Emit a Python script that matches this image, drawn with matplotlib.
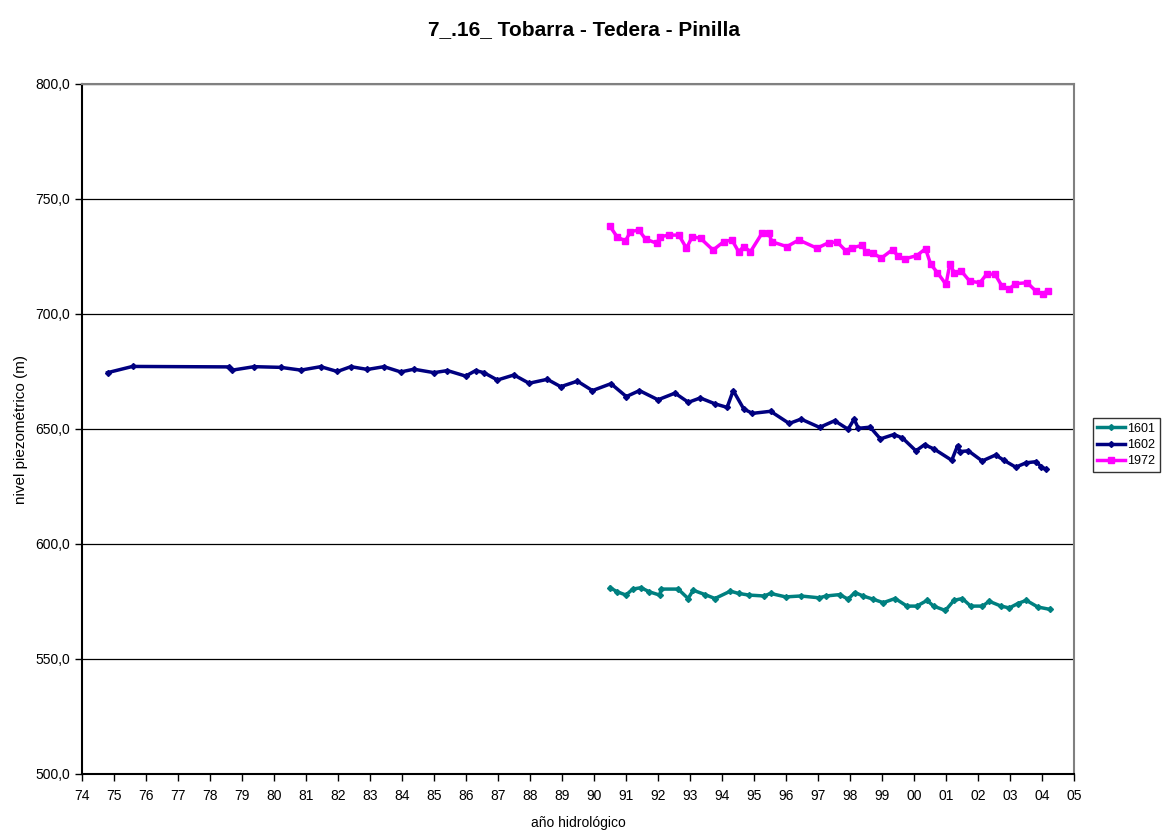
import numpy as np
import matplotlib.pyplot as plt
from matplotlib.ticker import FuncFormatter, MultipleLocator

plt.rcParams['font.family'] = ['Liberation Sans', 'DejaVu Sans']

# Series (hydrological year, level in m)
x_1601 = [90.50, 90.73, 91.00, 91.21, 91.47, 91.73, 92.05, 92.10, 92.63, 92.94,
          93.10, 93.47, 93.78, 94.26, 94.52, 94.84, 95.31, 95.52, 95.99, 96.46,
          97.04, 97.25, 97.68, 97.94, 98.15, 98.41, 98.72, 99.04, 99.41, 99.78,
          100.09, 100.41, 100.61, 100.98, 101.25, 101.51, 101.77, 102.14, 102.35,
          102.72, 102.98, 103.24, 103.51, 103.87, 104.24]
y_1601 = [581.0, 579.2, 577.8, 580.4, 581.0, 579.2, 577.8, 580.4, 580.4, 576.3,
          579.9, 578.0, 576.3, 579.5, 578.5, 577.8, 577.4, 578.5, 577.0, 577.4,
          576.6, 577.4, 578.0, 576.0, 578.9, 577.4, 576.0, 574.5, 576.3, 573.0,
          573.0, 575.5, 573.0, 571.1, 575.5, 576.3, 573.0, 573.0, 575.1,
          573.0, 572.2, 574.1, 575.5, 572.6, 571.6]

x_1602 = [74.80, 75.58, 78.60, 78.70, 79.38, 80.21, 80.84, 81.46, 81.98, 82.40,
          82.92, 83.44, 83.96, 84.37, 85.00, 85.42, 85.99, 86.30, 86.56, 86.98,
          87.50, 87.97, 88.54, 88.96, 89.48, 89.95, 90.53, 91.01, 91.42, 92.00,
          92.53, 92.95, 93.32, 93.79, 94.16, 94.35, 94.68, 94.95, 95.52, 96.10,
          96.47, 97.05, 97.52, 97.94, 98.13, 98.26, 98.63, 98.95, 99.37, 99.64,
          100.06, 100.33, 100.64, 101.18, 101.36, 101.44, 101.70, 102.13, 102.55,
          102.81, 103.18, 103.50, 103.82, 103.98, 104.14]
y_1602 = [674.5, 677.2, 677.0, 675.6, 677.1, 676.8, 675.6, 677.1, 675.0, 677.1,
          675.9, 677.1, 674.8, 676.0, 674.5, 675.4, 673.0, 675.4, 674.5, 671.3,
          673.5, 669.9, 671.6, 668.4, 670.8, 666.7, 669.7, 664.1, 666.7, 662.7,
          665.6, 661.6, 663.5, 660.9, 659.4, 666.7, 658.7, 656.8, 657.7, 652.4,
          654.3, 650.7, 653.6, 649.9, 654.3, 650.3, 650.8, 645.7, 647.6, 646.1,
          640.5, 643.2, 641.2, 636.4, 642.7, 640.2, 640.5, 636.1, 638.7,
          636.4, 633.4, 635.3, 635.8, 633.4, 632.4]

x_1972 = [90.49, 90.72, 90.98, 91.14, 91.40, 91.61, 91.97, 92.06, 92.34, 92.65,
          92.89, 93.07, 93.33, 93.72, 94.05, 94.31, 94.52, 94.68, 94.89, 95.25,
          95.46, 95.56, 96.03, 96.40, 96.97, 97.33, 97.60, 97.86, 98.07, 98.39,
          98.50, 98.71, 98.98, 99.33, 99.51, 99.72, 100.09, 100.36, 100.52,
          100.73, 101.00, 101.12, 101.26, 101.47, 101.74, 102.06, 102.27, 102.53,
          102.75, 102.96, 103.17, 103.54, 103.81, 104.02, 104.18]
y_1972 = [738.3, 733.6, 731.7, 735.8, 736.5, 732.6, 730.7, 733.6, 734.3, 734.3,
          728.6, 733.6, 732.9, 727.8, 731.4, 732.2, 727.1, 729.3, 727.1, 735.1,
          735.1, 731.4, 729.3, 732.2, 728.6, 731.0, 731.3, 727.6, 728.8, 729.9,
          726.9, 726.5, 724.3, 728.0, 725.0, 724.0, 725.4, 728.4, 721.7,
          718.0, 712.9, 721.7, 718.0, 718.8, 714.3, 713.6, 717.3, 717.3,
          712.1, 710.7, 713.2, 713.6, 709.9, 708.7, 710.2]

series = [
    ('1601', x_1601, y_1601, '#008080', 'D', 3),
    ('1602', x_1602, y_1602, '#000080', 'D', 3),
    ('1972', x_1972, y_1972, '#FF00FF', 's', 4),
]

fig = plt.figure(figsize=(11.68, 8.30), dpi=100)
ax = fig.add_axes([82 / 1168, 56 / 830, (1074 - 82) / 1168, (774 - 84) / 830])

for name, xs, ys, color, marker, ms in series:
    ax.plot(xs, ys, color=color, lw=2.5, marker=marker, ms=ms, label=name)

ax.set_xlim(74, 105)
ax.set_ylim(500, 800)
ax.xaxis.set_major_locator(MultipleLocator(1))
ax.yaxis.set_major_locator(MultipleLocator(50))
ax.xaxis.set_major_formatter(FuncFormatter(lambda v, p: f"{int(round(v)) % 100:02d}"))
ax.yaxis.set_major_formatter(FuncFormatter(lambda v, p: f"{v:.1f}".replace('.', ',')))
ax.tick_params(axis='both', direction='out', length=5, width=1, labelsize=10, colors='black')
ax.tick_params(axis='x', pad=6)
ax.grid(axis='y', color='black', lw=0.9)
ax.set_axisbelow(True)

ax.spines['left'].set_linewidth(1.5)
ax.spines['bottom'].set_linewidth(1.5)
ax.spines['top'].set_color('#808080')
ax.spines['right'].set_color('#808080')
ax.spines['top'].set_linewidth(1.5)
ax.spines['right'].set_linewidth(1.5)

ax.set_xlabel('año hidrológico', fontsize=10, labelpad=9)
ax.set_ylabel('nivel piezométrico (m)', fontsize=11, labelpad=5)
fig.suptitle('7_.16_ Tobarra - Tedera - Pinilla', fontsize=15, fontweight='bold', y=0.976)

leg = fig.legend(loc='center left', bbox_to_anchor=(1093 / 1168, 1 - 445 / 830),
                 fontsize=9, frameon=True, fancybox=False, edgecolor='black',
                 handlelength=2.2, borderpad=0.35, labelspacing=0.35, handletextpad=0.2,
                 borderaxespad=0)
leg.get_frame().set_linewidth(1)

fig.savefig('out.png', dpi=100)
